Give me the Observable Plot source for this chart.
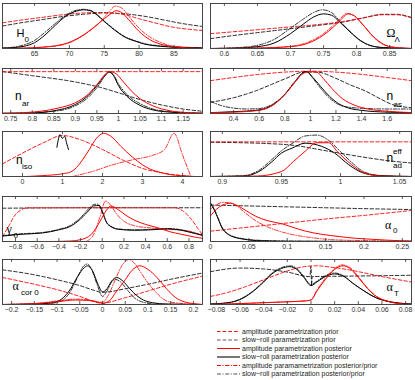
<!DOCTYPE html>
<html><head><meta charset="utf-8">
<script src="https://cdn.jsdelivr.net/npm/d3@7"></script>
<script src="https://cdn.jsdelivr.net/npm/@observablehq/plot@0.6"></script>
<style>
body{margin:0;background:#fff;}
#wrap{position:relative;width:415px;height:380px;overflow:hidden;}
#wrap svg.panel{position:absolute;}
#overlay{position:absolute;left:0;top:0;}
</style></head>
<body><div id="wrap"></div>
<script>
// ---------- tick labels ----------
const H0_ticks = [65,70,75,80,85];
const OL_ticks = [0.6,0.65,0.7,0.75,0.8,0.85];
const nar_ticks = [0.75,0.8,0.85,0.9,0.95,1,1.05,1.1,1.15];
const nas_ticks = [0.4,0.6,0.8,1,1.2,1.4,1.6];
const niso_ticks = [0,1,2,3,4];
const nad_ticks = [0.9,0.95,1,1.05];
const g0_ticks = [-0.8,-0.6,-0.4,-0.2,0,0.2,0.4,0.6,0.8];
const a0_ticks = [0,0.05,0.1,0.15,0.2,0.25];
const ac_ticks = [-0.2,-0.15,-0.1,-0.05,0,0.05,0.1,0.15,0.2];
const aT_ticks = [-0.08,-0.06,-0.04,-0.02,0,0.02,0.04,0.06,0.08];

// ---------- H0 ----------
const H0_ampPrior = [[60.4,0.57],[63,0.63],[66,0.69],[69,0.75],[72,0.79],[74,0.8],[76,0.79],[78,0.75],[80,0.66],[82,0.58],[85,0.47],[87,0.43],[89.1,0.40]];
const H0_srPrior = [[60.4,0.5],[63,0.57],[66,0.64],[69,0.71],[72,0.76],[75,0.79],[78,0.77],[81,0.71],[84,0.62],[86,0.56],[89.1,0.49]];
const H0_ampPost = [[60.4,0],[64,0.01],[67,0.04],[69,0.09],[70.5,0.17],[72,0.3],[73.5,0.47],[75,0.66],[76,0.78],[76.7,0.84],[77.5,0.8],[78.5,0.64],[80,0.38],[81.5,0.2],[83,0.1],[85,0.04],[87,0.01],[89.1,0]];
const H0_srPost = [[60.4,0.01],[62,0.02],[63.5,0.05],[65,0.13],[66.5,0.3],[68,0.52],[69.5,0.72],[71,0.83],[72,0.86],[73,0.84],[74,0.74],[75,0.6],[76,0.47],[77,0.35],[78,0.25],[79.5,0.16],[81,0.09],[83,0.05],[86,0.02],[89.1,0.01]];
const H0_ampRatio = [[60.4,0],[66,0.03],[69,0.08],[71,0.2],[73,0.4],[74.5,0.6],[75.7,0.82],[76.6,0.94],[77.5,0.9],[78.5,0.72],[80,0.45],[81.5,0.26],[83,0.14],[85,0.05],[89.1,0.01]];
const H0_srRatio = [[60.4,0.01],[62,0.03],[63.5,0.08],[65,0.18],[66.5,0.36],[68,0.56],[69.5,0.74],[71,0.85],[72,0.87],[73,0.85],[74,0.75],[75,0.61],[76,0.48],[77,0.36],[78,0.26],[79.5,0.17],[81,0.1],[83,0.06],[86,0.03],[89.1,0.02]];

// ---------- Omega_Lambda ----------
const OL_ampPrior = [[0.579,0.33],[0.62,0.38],[0.66,0.43],[0.7,0.48],[0.74,0.53],[0.78,0.6],[0.81,0.68],[0.84,0.75],[0.86,0.75],[0.883,0.68]];
const OL_srPrior = [[0.579,0.22],[0.62,0.3],[0.66,0.37],[0.7,0.44],[0.74,0.51],[0.78,0.59],[0.81,0.68],[0.84,0.76],[0.86,0.76],[0.883,0.69]];
const OL_ampPost = [[0.579,0],[0.65,0.01],[0.7,0.04],[0.725,0.11],[0.75,0.3],[0.765,0.48],[0.775,0.62],[0.787,0.77],[0.797,0.72],[0.81,0.52],[0.825,0.27],[0.84,0.1],[0.855,0.03],[0.883,0]];
const OL_srPost = [[0.579,0],[0.62,0.01],[0.65,0.04],[0.675,0.12],[0.7,0.33],[0.72,0.55],[0.735,0.7],[0.75,0.77],[0.762,0.74],[0.775,0.58],[0.79,0.37],[0.805,0.18],[0.82,0.07],[0.84,0.02],[0.883,0]];
const OL_ampRatio = [[0.579,0],[0.65,0.01],[0.7,0.05],[0.725,0.13],[0.75,0.33],[0.765,0.52],[0.775,0.66],[0.785,0.78],[0.795,0.74],[0.81,0.52],[0.825,0.26],[0.84,0.09],[0.855,0.03],[0.883,0]];
const OL_srRatio = [[0.579,0],[0.62,0.02],[0.65,0.07],[0.675,0.2],[0.7,0.45],[0.72,0.66],[0.735,0.8],[0.748,0.86],[0.762,0.8],[0.775,0.6],[0.79,0.38],[0.805,0.19],[0.82,0.07],[0.84,0.02],[0.883,0]];

// ---------- n_ar ----------
const nar_ampPrior = [[0.731,0.93],[0.9,0.93],[1.05,0.93],[1.195,0.93]];
const nar_srPrior = [[0.731,0.93],[0.8,0.84],[0.9,0.7],[0.958,0.58],[1.0,0.46],[1.05,0.31],[1.1,0.19],[1.15,0.1],[1.195,0.05]];
const nar_ampPost = [[0.731,0.01],[0.78,0.02],[0.82,0.05],[0.86,0.12],[0.9,0.24],[0.93,0.43],[0.955,0.7],[0.97,0.88],[0.98,0.93],[0.995,0.88],[1.01,0.72],[1.03,0.5],[1.05,0.33],[1.08,0.17],[1.12,0.06],[1.16,0.02],[1.195,0.01]];
const nar_srPost = [[0.731,0],[0.8,0.01],[0.85,0.06],[0.9,0.2],[0.93,0.4],[0.955,0.68],[0.97,0.86],[0.978,0.92],[0.988,0.85],[1.0,0.62],[1.02,0.38],[1.05,0.18],[1.08,0.08],[1.12,0.03],[1.195,0]];
const nar_srRatio = [[0.731,0],[0.85,0.05],[0.9,0.17],[0.93,0.36],[0.955,0.64],[0.97,0.85],[0.978,0.93],[0.988,0.87],[1.0,0.66],[1.02,0.42],[1.05,0.22],[1.08,0.1],[1.12,0.04],[1.195,0.01]];

// ---------- n_as ----------
const nas_ampPrior = [[0.22,0.73],[0.4,0.8],[0.6,0.87],[0.8,0.92],[1.0,0.94],[1.2,0.92],[1.4,0.87],[1.6,0.8],[1.79,0.73]];
const nas_srPrior = [[0.22,0.25],[0.4,0.35],[0.57,0.5],[0.7,0.65],[0.81,0.78],[0.95,0.92],[1.05,0.92],[1.2,0.78],[1.3,0.65],[1.43,0.5],[1.55,0.32],[1.64,0.2],[1.79,0.13]];
const nas_ampPost = [[0.22,0.02],[0.4,0.03],[0.6,0.07],[0.7,0.17],[0.8,0.42],[0.88,0.7],[0.95,0.9],[1.0,0.93],[1.05,0.92],[1.1,0.78],[1.17,0.55],[1.25,0.33],[1.35,0.18],[1.45,0.1],[1.6,0.05],[1.79,0.02]];
const nas_srPost = [[0.22,0.02],[0.4,0.04],[0.6,0.08],[0.7,0.18],[0.8,0.42],[0.88,0.7],[0.95,0.92],[0.97,0.93],[1.02,0.8],[1.08,0.6],[1.15,0.38],[1.22,0.22],[1.3,0.12],[1.4,0.07],[1.6,0.03],[1.79,0.02]];
const nas_srRatio = [[0.22,0.27],[0.3,0.18],[0.4,0.12],[0.5,0.1],[0.6,0.11],[0.7,0.2],[0.8,0.43],[0.88,0.72],[0.95,0.92],[0.97,0.93],[1.02,0.78],[1.08,0.56],[1.15,0.34],[1.22,0.2],[1.3,0.14],[1.45,0.11],[1.6,0.1],[1.79,0.1]];

// ---------- n_iso ----------
const niso_ampPrior = [[-0.5,0.28],[0,0.52],[0.5,0.74],[1.0,0.91],[1.5,0.8],[2.0,0.6],[2.5,0.37],[3.0,0.18],[3.5,0.08],[4.0,0.02],[4.25,0]];
const niso_ampPost = [[0.1,0],[0.5,0.02],[1.0,0.06],[1.2,0.1],[1.35,0.2],[1.5,0.37],[1.67,0.6],[1.85,0.85],[2.03,0.96],[2.2,0.9],[2.46,0.67],[2.75,0.43],[3.0,0.26],[3.2,0.16],[3.45,0.09],[3.7,0.04],[3.95,0.02],[4.3,0]];
const niso_ampRatio = [[1.25,0],[1.7,0.1],[2.33,0.28],[2.8,0.38],[3.25,0.47],[3.55,0.6],[3.79,0.96],[4.0,0.48],[4.2,0.02]];
const niso_srRatio = [[0.86,0.65],[0.94,0.93],[0.99,0.85],[1.06,0.89],[1.1,0.75],[1.15,0.6]];

// ---------- n_ad^eff ----------
const nad_ampPrior = [[0.89,0.77],[0.97,0.77],[1.06,0.77]];
const nad_srPrior = [[0.89,0.76],[0.93,0.74],[0.961,0.69],[0.988,0.57],[1.01,0.47],[1.044,0.34],[1.06,0.3]];
const nad_ampPost = [[0.89,0],[0.929,0.01],[0.95,0.11],[0.96,0.33],[0.97,0.56],[0.98,0.75],[0.99,0.75],[0.997,0.56],[1.009,0.27],[1.02,0.08],[1.035,0.01],[1.06,0]];
const nad_srPost = [[0.89,0],[0.918,0.01],[0.931,0.11],[0.942,0.33],[0.95,0.52],[0.959,0.63],[0.97,0.74],[0.984,0.67],[0.995,0.52],[1.007,0.26],[1.018,0.09],[1.032,0.02],[1.06,0]];
const nad_srRatio = [[0.89,0],[0.918,0.02],[0.931,0.14],[0.942,0.38],[0.95,0.57],[0.96,0.75],[0.97,0.9],[0.98,0.92],[0.99,0.8],[1.0,0.55],[1.01,0.3],[1.02,0.1],[1.035,0.02],[1.06,0]];

// ---------- gamma_0 ----------
const g0_ampPrior = [[-0.92,0.11],[-0.86,0.35],[-0.81,0.57],[-0.75,0.7],[-0.69,0.75],[0,0.75],[0.67,0.75],[0.75,0.67],[0.82,0.5],[0.88,0.3],[0.925,0.15]];
const g0_srPrior = [[-0.92,0.74],[0,0.75],[0.925,0.75]];
const g0_ampPost = [[-0.92,0],[-0.5,0],[-0.3,0.01],[-0.2,0.04],[-0.1,0.16],[-0.02,0.45],[0.04,0.7],[0.08,0.79],[0.14,0.72],[0.22,0.58],[0.3,0.47],[0.4,0.38],[0.52,0.3],[0.62,0.22],[0.73,0.16],[0.85,0.1],[0.925,0.07]];
const g0_srPost = [[-0.92,0.12],[-0.75,0.16],[-0.55,0.19],[-0.4,0.26],[-0.3,0.33],[-0.2,0.5],[-0.12,0.7],[-0.08,0.79],[-0.03,0.8],[0.0,0.66],[0.04,0.42],[0.08,0.33],[0.15,0.27],[0.3,0.25],[0.45,0.26],[0.6,0.28],[0.73,0.25],[0.85,0.18],[0.925,0.14]];
const g0_ampRatio = [[-0.15,0],[-0.08,0.15],[-0.02,0.55],[0.03,0.9],[0.08,0.8],[0.13,0.62],[0.2,0.45],[0.3,0.35],[0.45,0.3],[0.6,0.27],[0.75,0.25],[0.85,0.2],[0.925,0.12]];
const g0_srRatio = [[-0.92,0.13],[-0.75,0.17],[-0.55,0.2],[-0.4,0.27],[-0.3,0.35],[-0.2,0.53],[-0.12,0.74],[-0.08,0.82],[-0.04,0.83],[0.0,0.68],[0.04,0.43],[0.08,0.34],[0.15,0.28],[0.3,0.26],[0.45,0.27],[0.6,0.29],[0.73,0.26],[0.85,0.19],[0.925,0.15]];

// ---------- alpha_0 ----------
const a0_ampPrior = [[0,0.23],[0.05,0.32],[0.1,0.41],[0.15,0.5],[0.2,0.58],[0.262,0.69]];
const a0_srPrior = [[0,0.81],[0.05,0.79],[0.1,0.77],[0.15,0.75],[0.2,0.73],[0.262,0.71]];
const a0_ampPost = [[0,0.57],[0.008,0.72],[0.016,0.81],[0.026,0.85],[0.035,0.8],[0.045,0.7],[0.059,0.56],[0.075,0.46],[0.094,0.39],[0.11,0.3],[0.124,0.23],[0.145,0.16],[0.168,0.11],[0.19,0.07],[0.21,0.05],[0.23,0.03],[0.262,0.01]];
const a0_srPost = [[0,0.84],[0.005,0.7],[0.01,0.5],[0.015,0.3],[0.022,0.17],[0.03,0.1],[0.04,0.06],[0.06,0.02],[0.1,0.005],[0.262,0]];
const a0_ampRatio = [[0,0.72],[0.008,0.82],[0.016,0.87],[0.025,0.86],[0.035,0.78],[0.045,0.64],[0.059,0.46],[0.075,0.32],[0.1,0.18],[0.13,0.09],[0.16,0.04],[0.2,0.02],[0.262,0.01]];
const a0_srRatio = [[0,0.86],[0.005,0.72],[0.01,0.52],[0.015,0.32],[0.022,0.18],[0.03,0.11],[0.04,0.07],[0.06,0.03],[0.1,0.01],[0.262,0]];

// ---------- alpha_cor0 ----------
const ac_ampPrior = [[-0.22,0.6],[-0.15,0.45],[-0.1,0.33],[-0.05,0.18],[-0.01,0.04],[0.0,0.02],[0.01,0.04],[0.05,0.15],[0.1,0.3],[0.15,0.45],[0.22,0.63]];
const ac_srPrior = [[-0.22,0.77],[-0.15,0.66],[-0.1,0.55],[-0.05,0.42],[-0.02,0.32],[0.0,0.27],[0.02,0.29],[0.05,0.35],[0.1,0.45],[0.15,0.56],[0.22,0.7]];
const ac_ampPost = [[-0.22,0],[-0.15,0.02],[-0.1,0.06],[-0.06,0.1],[-0.03,0.09],[-0.01,0.05],[0.0,0.03],[0.015,0.08],[0.03,0.28],[0.05,0.55],[0.065,0.76],[0.082,0.86],[0.1,0.78],[0.12,0.6],[0.14,0.36],[0.16,0.16],[0.18,0.06],[0.2,0.02],[0.22,0]];
const ac_srPost = [[-0.22,0],[-0.15,0.01],[-0.11,0.04],[-0.09,0.12],[-0.07,0.35],[-0.055,0.62],[-0.04,0.82],[-0.033,0.86],[-0.022,0.75],[-0.01,0.45],[0.0,0.28],[0.01,0.35],[0.02,0.52],[0.031,0.6],[0.045,0.52],[0.06,0.35],[0.075,0.2],[0.09,0.1],[0.11,0.04],[0.14,0.01],[0.22,0]];
const ac_ampRatio = [[-0.22,0],[-0.15,0.02],[-0.1,0.08],[-0.06,0.12],[-0.03,0.1],[-0.01,0.06],[0.0,0.05],[0.015,0.25],[0.03,0.6],[0.045,0.9],[0.058,1.0],[0.07,0.92],[0.085,0.7],[0.1,0.48],[0.115,0.3],[0.13,0.15],[0.15,0.05],[0.22,0]];
const ac_srRatio = [[-0.22,0],[-0.12,0.02],[-0.09,0.08],[-0.07,0.3],[-0.055,0.6],[-0.042,0.85],[-0.033,0.9],[-0.025,0.8],[-0.012,0.45],[0.0,0.18],[0.01,0.3],[0.02,0.5],[0.028,0.56],[0.04,0.5],[0.055,0.32],[0.07,0.15],[0.09,0.05],[0.12,0.01],[0.22,0]];

// ---------- alpha_T ----------
const aT_ampPrior = [[-0.085,0.18],[-0.07,0.27],[-0.055,0.4],[-0.04,0.55],[-0.025,0.7],[-0.01,0.82],[0.003,0.86],[0.02,0.82],[0.04,0.73],[0.06,0.62],[0.085,0.5]];
const aT_srPrior = [[-0.085,0.73],[-0.06,0.81],[-0.04,0.79],[-0.02,0.72],[-0.001,0.62],[0,0.85],[0.0005,0.42],[0.001,0.62],[0.03,0.63],[0.06,0.64],[0.085,0.65]];
const aT_ampPost = [[-0.085,0],[-0.06,0.02],[-0.04,0.04],[-0.02,0.06],[-0.005,0.08],[0,0.1],[0.005,0.3],[0.012,0.55],[0.02,0.78],[0.027,0.86],[0.033,0.8],[0.04,0.6],[0.048,0.35],[0.055,0.18],[0.065,0.07],[0.075,0.02],[0.085,0]];
const aT_srPost = [[-0.085,0.01],[-0.07,0.04],[-0.06,0.11],[-0.05,0.27],[-0.04,0.5],[-0.033,0.68],[-0.025,0.8],[-0.018,0.84],[-0.012,0.78],[-0.006,0.6],[0,0.42],[0.005,0.5],[0.012,0.62],[0.02,0.68],[0.028,0.62],[0.035,0.48],[0.045,0.3],[0.055,0.15],[0.065,0.07],[0.075,0.03],[0.085,0.01]];
const aT_ampRatio = [[-0.085,0],[-0.06,0.02],[-0.04,0.04],[-0.02,0.06],[-0.005,0.08],[0,0.1],[0.005,0.32],[0.012,0.58],[0.02,0.8],[0.026,0.88],[0.033,0.82],[0.04,0.62],[0.048,0.36],[0.055,0.19],[0.065,0.07],[0.075,0.02],[0.085,0]];
const aT_srRatio = [[-0.085,0.01],[-0.07,0.04],[-0.06,0.12],[-0.05,0.28],[-0.04,0.52],[-0.033,0.7],[-0.025,0.82],[-0.018,0.86],[-0.012,0.8],[-0.006,0.62],[0,0.44],[0.005,0.52],[0.012,0.64],[0.02,0.7],[0.028,0.63],[0.035,0.48],[0.045,0.3],[0.055,0.15],[0.065,0.07],[0.075,0.03],[0.085,0.01]];

// ---------- legend ----------
const legendLabels = [
  "amplitude parametrization prior",
  "slow\u2212roll parametrization prior",
  "amplitude parametrization posterior",
  "slow\u2212roll parametrization posterior",
  "amplitude paramametrization posterior/prior",
  "slow\u2212roll parametrization posterior/prior"
];

// ---------- styles ----------
const RED = "#ff0000", BLK = "#000000";
const DASH = "3.5,2.2", DASHDOT = "4,1.6,1,1.6";
const seriesStyle = {
  srPrior:  {stroke: "#111", dash: DASH, w: 0.9},
  ampPrior: {stroke: RED, dash: DASH, w: 0.9},
  srRatio:  {stroke: BLK, dash: DASHDOT, w: 0.8},
  ampRatio: {stroke: RED, dash: DASHDOT, w: 0.8},
  srPost:   {stroke: BLK, dash: null, w: 1},
  ampPost:  {stroke: RED, dash: null, w: 1}
};
const order = ["srPrior","ampPrior","srRatio","ampRatio","srPost","ampPost"];

const panels = [
  {col:0,row:0,domain:[60.4,89.1],ticks:H0_ticks,s:{ampPrior:H0_ampPrior,srPrior:H0_srPrior,ampPost:H0_ampPost,srPost:H0_srPost,ampRatio:H0_ampRatio,srRatio:H0_srRatio}},
  {col:1,row:0,domain:[0.579,0.883],ticks:OL_ticks,s:{ampPrior:OL_ampPrior,srPrior:OL_srPrior,ampPost:OL_ampPost,srPost:OL_srPost,ampRatio:OL_ampRatio,srRatio:OL_srRatio}},
  {col:0,row:1,domain:[0.731,1.195],ticks:nar_ticks,s:{ampPrior:nar_ampPrior,srPrior:nar_srPrior,ampPost:nar_ampPost,srPost:nar_srPost,srRatio:nar_srRatio}},
  {col:1,row:1,domain:[0.22,1.79],ticks:nas_ticks,s:{ampPrior:nas_ampPrior,srPrior:nas_srPrior,ampPost:nas_ampPost,srPost:nas_srPost,srRatio:nas_srRatio}},
  {col:0,row:2,domain:[-0.5,4.5],ticks:niso_ticks,s:{ampPrior:niso_ampPrior,ampPost:niso_ampPost,ampRatio:niso_ampRatio,srPost:niso_srRatio}},
  {col:1,row:2,domain:[0.89,1.06],ticks:nad_ticks,s:{ampPrior:nad_ampPrior,srPrior:nad_srPrior,ampPost:nad_ampPost,srPost:nad_srPost,srRatio:nad_srRatio}},
  {col:0,row:3,domain:[-0.92,0.925],ticks:g0_ticks,s:{ampPrior:g0_ampPrior,srPrior:g0_srPrior,ampPost:g0_ampPost,srPost:g0_srPost,ampRatio:g0_ampRatio,srRatio:g0_srRatio}},
  {col:1,row:3,domain:[0,0.262],ticks:a0_ticks,s:{ampPrior:a0_ampPrior,srPrior:a0_srPrior,ampPost:a0_ampPost,srPost:a0_srPost,ampRatio:a0_ampRatio,srRatio:a0_srRatio}},
  {col:0,row:4,domain:[-0.22,0.22],ticks:ac_ticks,s:{ampPrior:ac_ampPrior,srPrior:ac_srPrior,ampPost:ac_ampPost,srPost:ac_srPost,ampRatio:ac_ampRatio,srRatio:ac_srRatio}},
  {col:1,row:4,domain:[-0.085,0.085],ticks:aT_ticks,s:{ampPrior:aT_ampPrior,srPrior:aT_srPrior,ampPost:aT_ampPost,srPost:aT_srPost,ampRatio:aT_ampRatio,srRatio:aT_srRatio}}
];

const rowTop = [0, 65, 128, 193, 256];
const FRAME_H = 45, MT = 3, MB = 14;
const fmt = d => (d < 0 ? "\u2212" : "") + String(Math.abs(d));
const wrap = document.getElementById("wrap");

for (const p of panels) {
  const left = p.col === 0;
  const width = left ? 206 : 209;
  const marks = [];
  for (const key of order) {
    const data = p.s[key];
    if (!data) continue;
    const st = seriesStyle[key];
    marks.push(Plot.line(data, {x: d => d[0], y: d => d[1], stroke: st.stroke, strokeWidth: st.w,
      strokeDasharray: st.dash, curve: "monotone-x", clip: true}));
  }
  marks.push(Plot.tickX(p.ticks, {x: d => d, insetTop: FRAME_H - 3, stroke: "#333", strokeWidth: 0.8}));
  marks.push(Plot.tickX(p.ticks, {x: d => d, insetBottom: FRAME_H - 3, stroke: "#333", strokeWidth: 0.8}));
  marks.push(Plot.frame({stroke: "#333", strokeWidth: 0.9}));
  const svg = Plot.plot({
    width, height: MT + FRAME_H + MB,
    marginLeft: left ? 2 : 4, marginRight: 4, marginTop: MT, marginBottom: MB,
    x: {domain: p.domain, ticks: p.ticks, tickSize: 0, tickPadding: 3, tickFormat: fmt, label: null},
    y: {domain: [0, 1], axis: null},
    style: {fontSize: "7px", fontFamily: "'Liberation Sans', Arial, sans-serif", color: "#333", background: "transparent", overflow: "visible"},
    marks
  });
  svg.classList.add("panel");
  svg.style.left = (left ? 0 : 206) + "px";
  svg.style.top = rowTop[p.row] + "px";
  wrap.appendChild(svg);
}

// ---------- overlay: panel labels and legend ----------
const ov = d3.select(wrap).append("svg").attr("id","overlay").attr("width",415).attr("height",380);
const SANS = "'Liberation Sans', Arial, sans-serif", SERIF = "'Liberation Serif', 'Times New Roman', serif";
const labels = [
  [16.5, 36.5, "H", SANS, 11, [[24.5, 42, "0"]]],
  [386.5, 36.5, "\u03A9", SERIF, 12, [[394.5, 42, "\u039B"]]],
  [15, 100, "n", SANS, 12, [[22, 106, "ar"]]],
  [386.5, 100, "n", SANS, 12, [[393.5, 107, "as"]]],
  [16, 163.5, "n", SANS, 12, [[22, 169, "iso"]]],
  [386.5, 162, "n", SANS, 12, [[393, 154, "eff"], [393, 167.5, "ad"]]],
  [6.5, 233, "\u03B3", SERIF, 12, [[13.5, 238, "0"]]],
  [385, 228.5, "\u03B1", SERIF, 12, [[393, 232.5, "0"]]],
  [12.5, 290, "\u03B1", SERIF, 12, [[21, 295, "cor 0"]]],
  [386.5, 290.5, "\u03B1", SERIF, 12, [[394, 296, "T"]]]
];
for (const [x, y, t, f, fs, subs] of labels) {
  ov.append("text").attr("x", x).attr("y", y).attr("font-family", f).attr("font-size", fs).attr("fill", "#000").text(t);
  for (const [sx, sy, st] of subs)
    ov.append("text").attr("x", sx).attr("y", sy).attr("font-family", SANS).attr("font-size", 8).attr("fill", "#000").text(st);
}
const legendKeys = ["ampPrior","srPrior","ampPost","srPost","ampRatio","srRatio"];
legendKeys.forEach((k, i) => {
  const st = seriesStyle[k];
  const cy = 331.5 + i * 8.5;
  const grey = k.startsWith("sr");
  ov.append("line").attr("x1", 217).attr("x2", 240).attr("y1", cy).attr("y2", cy)
    .attr("stroke", grey ? "#555" : RED).attr("stroke-width", k === "srPost" ? 1.6 : 1)
    .attr("stroke-dasharray", st.dash);
  ov.append("text").attr("x", 242).attr("y", cy + 2.4).attr("font-family", SANS).attr("font-size", 7)
    .attr("fill", "#222").text(legendLabels[i]);
});
</script>
</body></html>
